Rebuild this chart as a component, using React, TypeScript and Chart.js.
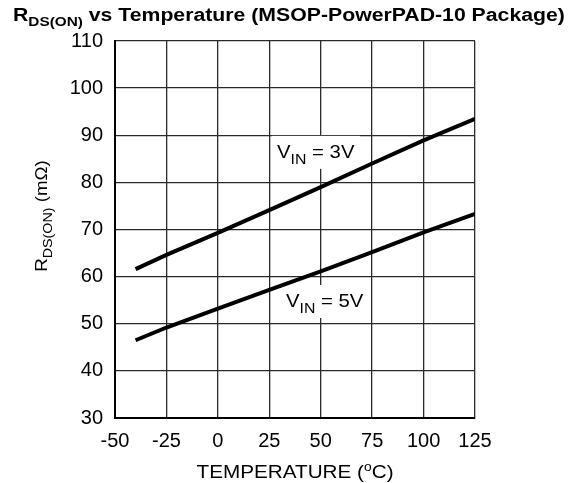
import React, { useEffect, useRef } from "react";
import { Chart, registerables } from "chart.js";
Chart.register(...registerables);

const temps = [-40, -25, 0, 25, 50, 75, 100, 125];
const vin3 = [61.6, 64.6, 69.3, 74.1, 79.0, 84.0, 88.9, 93.5];
const vin5 = [46.5, 49.2, 53.2, 57.2, 61.1, 65.2, 69.4, 73.3];
const xTicks = [-50, -25, 0, 25, 50, 75, 100, 125];
const yTicks = [30, 40, 50, 60, 70, 80, 90, 100, 110];
const curveLabels = [
  { x: 28.75, y: 85.2, v: "3V" },
  { x: 33.1, y: 53.55, v: "5V" },
];

const FONT = "'Liberation Sans', Arial, sans-serif";

type Part = { t: string; size: number; dy: number; bold?: boolean };

function measureRich(ctx: CanvasRenderingContext2D, parts: Part[]) {
  let total = 0;
  for (const p of parts) {
    ctx.font = `${p.bold ? "bold " : ""}${p.size}px ${FONT}`;
    total += ctx.measureText(p.t).width;
  }
  return total;
}

function drawRich(ctx: CanvasRenderingContext2D, parts: Part[], x: number, y: number, align: "left" | "center", sx: number) {
  const total = measureRich(ctx, parts) * sx;
  ctx.save();
  ctx.translate(align === "center" ? x - total / 2 : x, y);
  ctx.scale(sx, 1);
  ctx.textAlign = "left";
  ctx.textBaseline = "alphabetic";
  let cx = 0;
  for (const p of parts) {
    ctx.font = `${p.bold ? "bold " : ""}${p.size}px ${FONT}`;
    ctx.fillText(p.t, cx, p.dy);
    cx += ctx.measureText(p.t).width;
  }
  ctx.restore();
  return total;
}

const annotPlugin = {
  id: "annot",
  beforeDatasetsDraw(chart: any) {
    const ctx = chart.ctx as CanvasRenderingContext2D;
    const xs = chart.scales.x;
    const ys = chart.scales.y;
    ctx.save();
    for (const l of curveLabels) {
      const px = xs.getPixelForValue(l.x);
      const py = ys.getPixelForValue(l.y);
      ctx.fillStyle = "#fff";
      ctx.fillRect(px - 5, py - 22, 88, 33);
      ctx.fillStyle = "#000";
      drawRich(ctx, [
        { t: "V", size: 18, dy: 0 },
        { t: "IN", size: 14, dy: 6 },
        { t: " = " + l.v, size: 18, dy: 0 },
      ], px, py, "left", 1.13);
    }
    ctx.restore();
  },
  afterDraw(chart: any) {
    const ctx = chart.ctx as CanvasRenderingContext2D;
    const ca = chart.chartArea;
    ctx.save();
    ctx.fillStyle = "#000";
    drawRich(ctx, [
      { t: "R", size: 18, dy: 0, bold: true },
      { t: "DS(ON)", size: 13, dy: 5, bold: true },
      { t: " vs Temperature (MSOP-PowerPAD-10 Package)", size: 18, dy: 0, bold: true },
    ], 13, 21, "left", 1.18);
    drawRich(ctx, [
      { t: "TEMPERATURE (", size: 18, dy: 0 },
      { t: "o", size: 12, dy: -7 },
      { t: "C)", size: 18, dy: 0 },
    ], (ca.left + ca.right) / 2, 478, "center", 1.15);
    ctx.translate(47, 216);
    ctx.rotate(-Math.PI / 2);
    drawRich(ctx, [
      { t: "R", size: 17, dy: 0 },
      { t: "DS(ON)", size: 13, dy: 5 },
      { t: " (m\u03A9)", size: 17, dy: 0 },
    ], 0, 0, "center", 1.1);
    ctx.restore();
  },
};

export default function App() {
  const ref = useRef<HTMLCanvasElement>(null);
  useEffect(() => {
    if (!ref.current) return;
    const chart = new Chart(ref.current, {
      type: "line",
      data: {
        datasets: [
          { label: "VIN = 3V", data: temps.map((t, i) => ({ x: t, y: vin3[i] })), borderColor: "#000", borderWidth: 4, pointRadius: 0, tension: 0, borderCapStyle: "butt" },
          { label: "VIN = 5V", data: temps.map((t, i) => ({ x: t, y: vin5[i] })), borderColor: "#000", borderWidth: 4, pointRadius: 0, tension: 0, borderCapStyle: "butt" },
        ],
      },
      options: {
        animation: false,
        responsive: false,
        maintainAspectRatio: false,
        layout: { padding: { left: 0, top: 41, right: 99, bottom: 0 } },
        plugins: { legend: { display: false }, tooltip: { enabled: false } },
        scales: {
          x: {
            type: "linear",
            min: -50,
            max: 125,
            afterBuildTicks: (s: any) => { s.ticks = xTicks.map((v) => ({ value: v })); },
            afterFit: (s: any) => { s.height = 65; },
            ticks: { color: "#000", font: { family: FONT, size: 20 }, padding: 11, maxRotation: 0 },
            grid: { color: "#2a2a2a", lineWidth: 1.3, drawTicks: false },
            border: { color: "#000", width: 2 },
          },
          y: {
            type: "linear",
            min: 30,
            max: 110,
            afterBuildTicks: (s: any) => { s.ticks = yTicks.map((v) => ({ value: v })); },
            afterFit: (s: any) => { s.width = 115; },
            ticks: { color: "#000", font: { family: FONT, size: 20 }, padding: 12 },
            grid: { color: "#2a2a2a", lineWidth: 1.3, drawTicks: false },
            border: { color: "#000", width: 2 },
          },
        },
      },
      plugins: [annotPlugin],
    } as any);
    return () => chart.destroy();
  }, []);
  return (
    <div style={{ position: "fixed", left: 0, top: 0, width: 574, height: 483, background: "#fff" }}>
      <canvas ref={ref} width={574} height={483} style={{ display: "block" }} />
    </div>
  );
}
